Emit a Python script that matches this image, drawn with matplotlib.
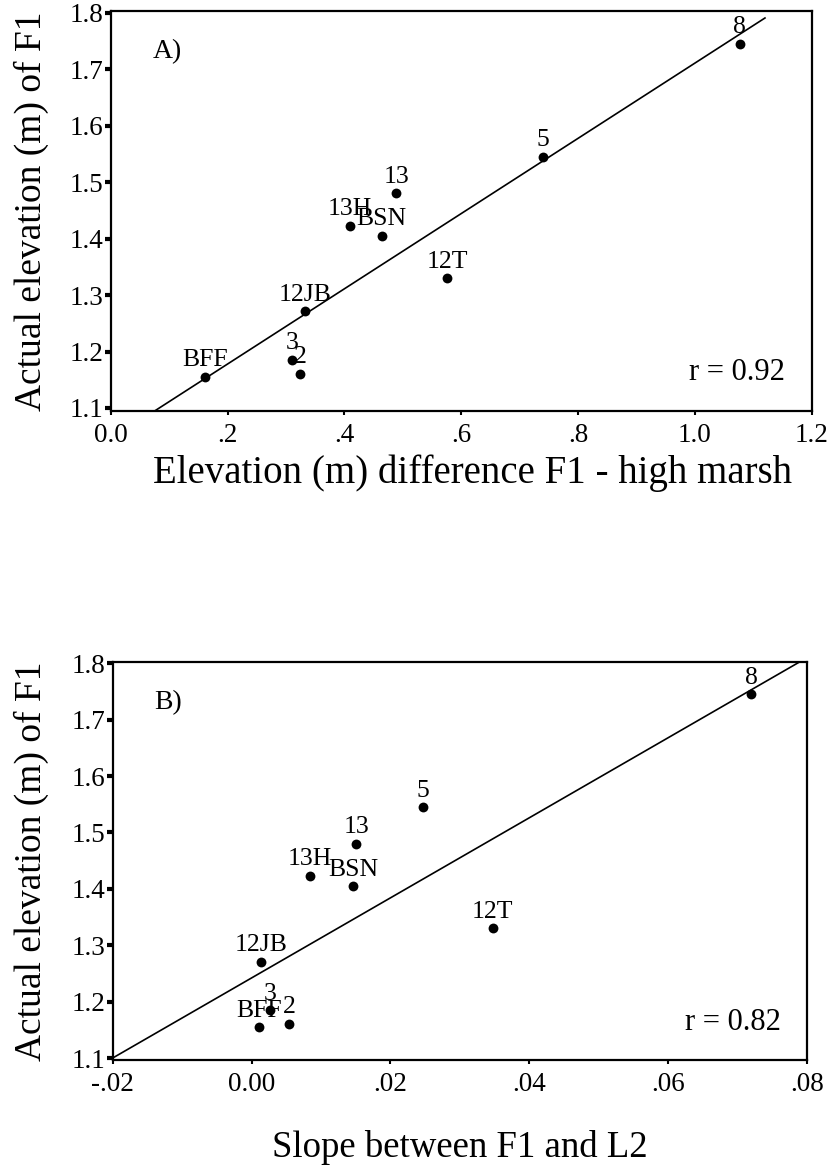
import matplotlib
matplotlib.use('Agg')

import matplotlib.pyplot as plt
import numpy as np

# site names and values
sites = ['8', '5', '13', '13H', 'BSN', '12T', '12JB', '3', '2', 'BFF']
elev_f1 = [1.745, 1.545, 1.480, 1.423, 1.405, 1.330, 1.271, 1.185, 1.161, 1.155]
elev_diff = [1.077, 0.740, 0.489, 0.409, 0.464, 0.576, 0.333, 0.311, 0.324, 0.161]
slope_f1_l2 = [0.0720, 0.0247, 0.0151, 0.0084, 0.0146, 0.0347, 0.0013, 0.0027, 0.0054, 0.0011]

r_a = 'r = 0.92'
r_b = 'r = 0.82'

yticks = [1.1, 1.2, 1.3, 1.4, 1.5, 1.6, 1.7, 1.8]
yticklabels = ['1.1', '1.2', '1.3', '1.4', '1.5', '1.6', '1.7', '1.8']
xticks_a = [0.0, 0.2, 0.4, 0.6, 0.8, 1.0, 1.2]
xticklabels_a = ['0.0', '.2', '.4', '.6', '.8', '1.0', '1.2']
xticks_b = [-0.02, 0.0, 0.02, 0.04, 0.06, 0.08]
xticklabels_b = ['-.02', '0.00', '.02', '.04', '.06', '.08']

plt.rcParams['font.family'] = ['Liberation Serif', 'DejaVu Serif']

fig = plt.figure(figsize=(8.32, 11.71), dpi=100)


def panel(ax, x, y, xticks, xticklabels, xlim, ylim, line_x, letter, rtext, xlabel,
          xlabel_size, ylab_pos, xlab_pos):
    ax.scatter(x, y, s=50, color='black', zorder=3, linewidths=0)
    for name, xi, yi in zip(sites, x, y):
        ax.annotate(name, (xi, yi), xytext=(0, 4), textcoords='offset points',
                    ha='center', va='bottom', fontsize=18.5)
    # least squares line
    k, b = np.polyfit(x, y, 1)
    lx = np.array(line_x)
    ax.plot(lx, k * lx + b, color='black', lw=1.2)
    ax.set_xlim(*xlim)
    ax.set_ylim(*ylim)
    ax.set_xticks(xticks)
    ax.set_xticklabels(xticklabels)
    ax.set_yticks(yticks)
    ax.set_yticklabels(yticklabels)
    ax.tick_params(axis='y', direction='out', length=4, width=3, labelsize=19.5, pad=1)
    ax.tick_params(axis='x', direction='out', length=3, width=1.5, labelsize=19.5, pad=6)
    for sp in ax.spines.values():
        sp.set_linewidth(1.6)
    ax.text(0.06, 0.93, letter, transform=ax.transAxes, fontsize=20, va='top')
    ax.text(0.962, 0.095, rtext, transform=ax.transAxes, fontsize=22, ha='right', va='center')
    ax.set_ylabel('Actual elevation (m) of F1', fontsize=27)
    ax.set_xlabel(xlabel, fontsize=xlabel_size)
    ax.yaxis.set_label_coords(*ylab_pos)
    ax.xaxis.set_label_coords(*xlab_pos)


ax_a = fig.add_axes([0.1331, 0.6493, 0.8425, 0.3413])
panel(ax_a, elev_diff, elev_f1, xticks_a, xticklabels_a, (0.0, 1.2), (1.0952, 1.8032),
      [0.0, 1.12], 'A)', r_a, 'Elevation (m) difference F1 - high marsh', 28,
      (-0.088, 0.5), (0.516, -0.11))

ax_b = fig.add_axes([0.1355, 0.0948, 0.8345, 0.3399])
panel(ax_b, slope_f1_l2, elev_f1, xticks_b, xticklabels_b, (-0.02, 0.08), (1.097, 1.802),
      [-0.02, 0.08], 'B)', r_b, 'Slope between F1 and L2', 26.5,
      (-0.0917, 0.5), (0.5, -0.176))

plt.savefig('out.png', dpi=100)
plt.close()
